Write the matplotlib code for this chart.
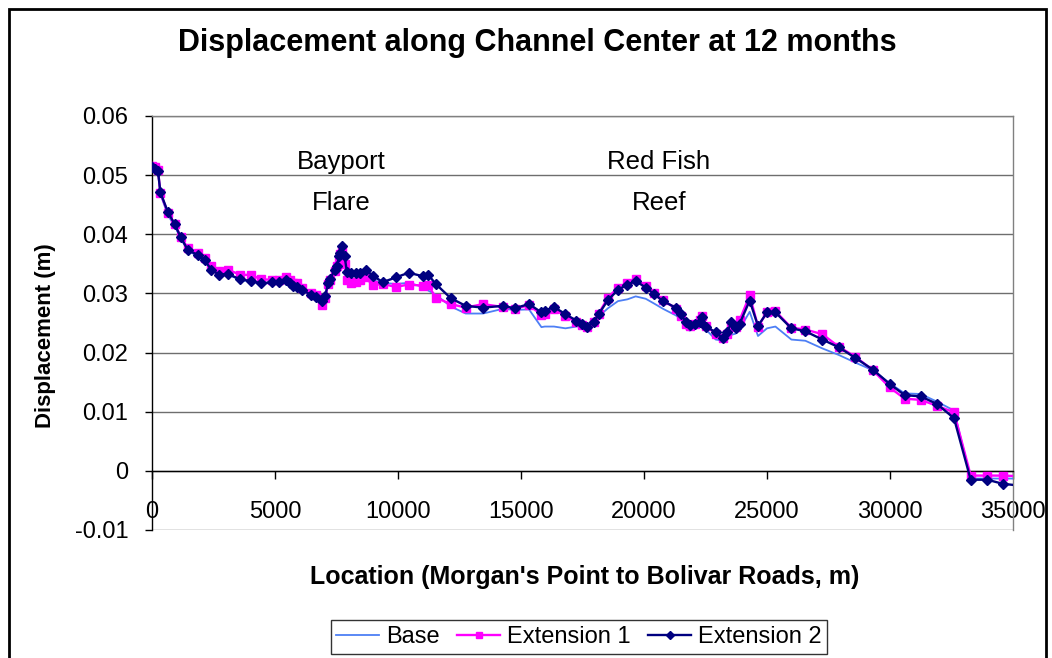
import matplotlib
matplotlib.use("Agg")
import matplotlib.pyplot as plt
from matplotlib.patches import Rectangle
from matplotlib.ticker import FuncFormatter

plt.rcParams['font.family'] = ['Liberation Sans', 'DejaVu Sans']

# Location along the channel (m)
location = [0, 110, 244, 341, 650, 923, 1167, 1463, 1870, 2142, 2415, 2711, 3089,
            3565, 4012, 4447, 4894, 5163, 5463, 5598, 5732, 5900, 6114, 6480, 6683,
            6900, 7050, 7150, 7250, 7420, 7520, 7600, 7650, 7720, 7830, 7920, 8100,
            8300, 8440, 8680, 8980, 9380, 9906, 10435, 11017, 11220, 11533, 12143,
            12752, 13456, 14268, 14744, 15325, 15830, 15965, 16342, 16806, 17252,
            17497, 17700, 17968, 18158, 18536, 18943, 19325, 19662, 20069, 20407,
            20773, 21289, 21492, 21695, 21858, 22061, 22264, 22374, 22536, 22915,
            23211, 23374, 23553, 23727, 23890, 24296, 24634, 25000, 25342, 25991,
            26560, 27252, 27915, 28593, 29309, 29987, 30598, 31248, 31912, 32602,
            33280, 33960, 34593, 35300]

base = [0.0512, 0.0510, 0.0505, 0.0468, 0.0432, 0.0414, 0.0393, 0.0372, 0.0363,
        0.0355, 0.0340, 0.0331, 0.0332, 0.0323, 0.0320, 0.0316, 0.0318, 0.0318,
        0.0322, 0.0317, 0.0312, 0.0310, 0.0305, 0.0296, 0.0293, 0.0289, 0.0296,
        0.0318, 0.0324, 0.0340, 0.0346, 0.0363, 0.0369, 0.0381, 0.0365, 0.0335,
        0.0330, 0.0330, 0.0330, 0.0327, 0.0322, 0.0318, 0.0316, 0.0318, 0.0311,
        0.0305, 0.0298, 0.0278, 0.0266, 0.0266, 0.0274, 0.0272, 0.0273, 0.0243,
        0.0244, 0.0244, 0.0241, 0.0244, 0.0246, 0.0248, 0.0254, 0.0261, 0.0275,
        0.0287, 0.0290, 0.0295, 0.0291, 0.0283, 0.0274, 0.0263, 0.0257, 0.0241,
        0.0237, 0.0241, 0.0244, 0.0247, 0.0238, 0.0222, 0.0220, 0.0227, 0.0230,
        0.0232, 0.0240, 0.0269, 0.0228, 0.0241, 0.0244, 0.0222, 0.0220, 0.0207,
        0.0196, 0.0183, 0.0170, 0.0148, 0.0131, 0.0130, 0.0117, 0.0102, -0.0013,
        -0.0013, -0.0013, -0.0013]

extension_1 = [0.0515, 0.0513, 0.0508, 0.0470, 0.0436, 0.0418, 0.0396, 0.0376,
               0.0369, 0.0360, 0.0346, 0.0338, 0.0340, 0.0332, 0.0331, 0.0324,
               0.0323, 0.0323, 0.0327, 0.0322, 0.0318, 0.0317, 0.0309, 0.0301,
               0.0298, 0.0280, 0.0293, 0.0316, 0.0322, 0.0338, 0.0346, 0.0358,
               0.0366, 0.0374, 0.0350, 0.0322, 0.0318, 0.0320, 0.0322, 0.0327,
               0.0314, 0.0316, 0.0311, 0.0315, 0.0313, 0.0315, 0.0293, 0.0282,
               0.0276, 0.0282, 0.0277, 0.0274, 0.0280, 0.0264, 0.0266, 0.0273,
               0.0262, 0.0251, 0.0246, 0.0244, 0.0252, 0.0266, 0.0293, 0.0310,
               0.0318, 0.0325, 0.0312, 0.0300, 0.0289, 0.0274, 0.0262, 0.0249,
               0.0245, 0.0249, 0.0255, 0.0262, 0.0245, 0.0232, 0.0225, 0.0232,
               0.0247, 0.0244, 0.0255, 0.0297, 0.0244, 0.0268, 0.0270, 0.0242,
               0.0239, 0.0231, 0.0210, 0.0193, 0.0170, 0.0141, 0.0122, 0.0120,
               0.0110, 0.0099, -0.0008, -0.0008, -0.0008, -0.0009]

extension_2 = [0.0514, 0.0511, 0.0507, 0.0471, 0.0437, 0.0417, 0.0395, 0.0373,
               0.0365, 0.0356, 0.0340, 0.0332, 0.0333, 0.0324, 0.0321, 0.0317,
               0.0319, 0.0319, 0.0323, 0.0317, 0.0313, 0.0311, 0.0306, 0.0297,
               0.0294, 0.0287, 0.0296, 0.0318, 0.0324, 0.0340, 0.0346, 0.0363,
               0.0369, 0.0381, 0.0363, 0.0337, 0.0334, 0.0334, 0.0334, 0.0340,
               0.0330, 0.0319, 0.0327, 0.0335, 0.0329, 0.0332, 0.0316, 0.0292,
               0.0279, 0.0276, 0.0279, 0.0275, 0.0282, 0.0268, 0.0271, 0.0277,
               0.0265, 0.0254, 0.0248, 0.0244, 0.0252, 0.0265, 0.0289, 0.0306,
               0.0315, 0.0321, 0.0310, 0.0299, 0.0287, 0.0276, 0.0266, 0.0252,
               0.0247, 0.0248, 0.0252, 0.0260, 0.0244, 0.0234, 0.0224, 0.0234,
               0.0251, 0.0241, 0.0249, 0.0288, 0.0245, 0.0268, 0.0268, 0.0241,
               0.0236, 0.0222, 0.0209, 0.0191, 0.0171, 0.0147, 0.0128, 0.0126,
               0.0113, 0.0089, -0.0015, -0.0015, -0.0022, -0.0025]

x_ticks = [0, 5000, 10000, 15000, 20000, 25000, 30000, 35000]
y_ticks = [-0.01, 0.0, 0.01, 0.02, 0.03, 0.04, 0.05, 0.06]

fig = plt.figure(figsize=(10.52, 6.58), dpi=100)
W, H = 1052, 658
ax = fig.add_axes([152 / W, 1 - 530 / H, (1013 - 152) / W, (530 - 116) / H])

ax.plot(location, base, color='#4D7FF5', lw=1.3, label='Base', zorder=3)
ax.plot(location, extension_1, color='#FF00FF', lw=1.7, marker='s', ms=5.2,
        mec='#FF00FF', mfc='#FF00FF', label='Extension 1', zorder=4)
ax.plot(location, extension_2, color='#000080', lw=1.7, marker='D', ms=5.0,
        mec='#000080', mfc='#000080', label='Extension 2', zorder=5)

ax.set_xlim(0, 35000)
ax.set_ylim(-0.01, 0.06)
ax.set_xticks(x_ticks)
ax.set_yticks(y_ticks)
ax.xaxis.set_major_formatter(FuncFormatter(lambda v, p: f"{int(v)}"))
ax.yaxis.set_major_formatter(FuncFormatter(lambda v, p: "0" if abs(v) < 1e-9 else f"{v:g}"))

# Horizontal gridlines
for yv in y_ticks:
    ax.axhline(yv, color='#6E6E6E', lw=1.0, zorder=1)

for s in ('top', 'right'):
    ax.spines[s].set_color('#808080')
    ax.spines[s].set_linewidth(1.0)
ax.spines['bottom'].set_position(('data', 0))
ax.spines['bottom'].set_color('black')
ax.spines['bottom'].set_linewidth(1.0)
ax.spines['left'].set_color('black')
ax.spines['left'].set_linewidth(1.0)

ax.tick_params(axis='x', direction='out', length=6, width=1, pad=16, labelsize=17)
ax.tick_params(axis='y', direction='out', length=5, width=1, pad=12, labelsize=17)

ax.text(7700, 0.0522, 'Bayport', ha='center', va='center', fontsize=18.5)
ax.text(7700, 0.0453, 'Flare', ha='center', va='center', fontsize=18.5)
ax.text(20600, 0.0522, 'Red Fish', ha='center', va='center', fontsize=18.5)
ax.text(20600, 0.0453, 'Reef', ha='center', va='center', fontsize=18.5)

fig.text(537 / W, 1 - 43 / H, 'Displacement along Channel Center at 12 months',
         ha='center', va='center', fontsize=22, fontweight='bold')
fig.text(46 / W, 1 - 336 / H, 'Displacement (m)', rotation=90,
         ha='center', va='center', fontsize=16, fontweight='bold')
fig.text(585 / W, 1 - 577 / H, "Location (Morgan's Point to Bolivar Roads, m)",
         ha='center', va='center', fontsize=18, fontweight='bold')

leg = fig.legend(loc='center', bbox_to_anchor=(579 / W, 1 - 637 / H), ncol=3,
                 fontsize=17, frameon=True, fancybox=False, edgecolor='black',
                 handlelength=1.8, handletextpad=0.3, columnspacing=0.75,
                 borderpad=0.25, markerscale=0.75)
leg.get_frame().set_linewidth(1.0)

# Outer chart frame
fig.patches.append(Rectangle((9 / W, -0.05), (1046 - 9) / W, 1 - 9 / H + 0.05,
                             transform=fig.transFigure, fill=False,
                             edgecolor='black', lw=2.0, zorder=0))

fig.savefig('out.png', dpi=100)
